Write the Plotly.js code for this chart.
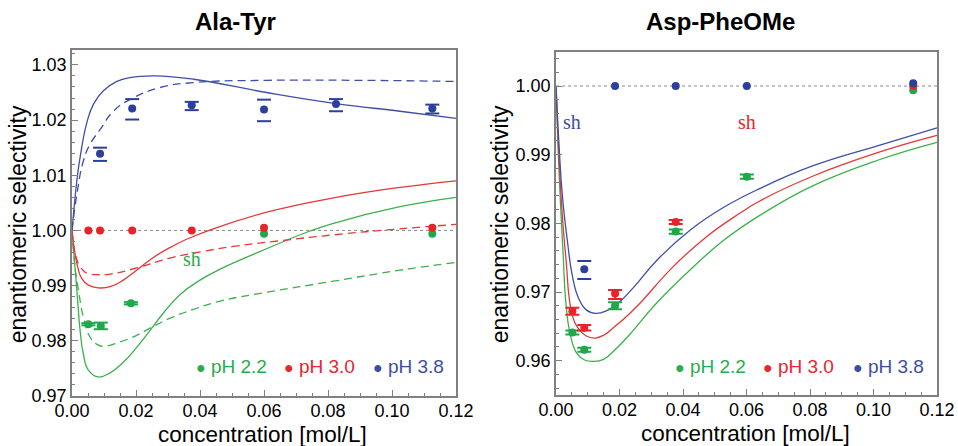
<!DOCTYPE html>
<html>
<head>
<meta charset="utf-8">
<script src="https://cdn.plot.ly/plotly-3.0.1.min.js"></script>
<style>html,body{margin:0;padding:0;background:#fff;}#chart{width:958px;height:446px;}</style>
</head>
<body>
<div id="chart"></div>
<script>
// ---------------- DATA ----------------
const panelTitles = ["Ala-Tyr", "Asp-PheOMe"];
const xAxisTitle = "concentration [mol/L]";
const yAxisTitle = "enantiomeric selectivity";
const legendLabels = ["pH 2.2", "pH 3.0", "pH 3.8"];
const shLabel = "sh";
const referenceLevel = 1.00;

// Ala-Tyr measured points
const ala_pH22_x = [0.0051, 0.0090, 0.0184, 0.0600, 0.1126];
const ala_pH22_y = [0.9830, 0.9827, 0.9868, 0.9994, 0.9994];
const ala_pH22_err = [0.0002, 0.0006, 0.0002, 0, 0];
const ala_pH30_x = [0.0051, 0.00875, 0.0188, 0.0374, 0.0600, 0.1126];
const ala_pH30_y = [1.0000, 1.0000, 1.0000, 1.0000, 1.0005, 1.0005];
const ala_pH38_x = [0.00875, 0.0188, 0.0374, 0.0600, 0.0825, 0.1126];
const ala_pH38_y = [1.0139, 1.0221, 1.0227, 1.0219, 1.0229, 1.0221];
const ala_pH38_errPlus = [0.0011, 0.0017, 0.0006, 0.0018, 0.0009, 0.0007];
const ala_pH38_errMinus = [0.0013, 0.0020, 0.0009, 0.0021, 0.0013, 0.0009];

// Ala-Tyr model curves (solid and dashed)
const ala_fit38_x = [0, 0.0015, 0.0025, 0.0046, 0.0067, 0.0098, 0.014, 0.0181, 0.026, 0.038, 0.0608, 0.0825, 0.1025, 0.12];
const ala_fit38_y = [1.000, 1.009, 1.0132, 1.0195, 1.0229, 1.0253, 1.0270, 1.0277, 1.0280, 1.0274, 1.0250, 1.0230, 1.0216, 1.0203];
const ala_fit38d_x = [0, 0.0015, 0.0035, 0.0056, 0.0088, 0.0129, 0.0187, 0.0275, 0.038, 0.0608, 0.09, 0.12];
const ala_fit38d_y = [1.000, 1.0065, 1.0125, 1.0156, 1.0183, 1.0216, 1.0239, 1.0259, 1.0268, 1.0272, 1.0272, 1.0270];
const ala_fit30_x = [0, 0.0015, 0.003, 0.0051, 0.0082, 0.0119, 0.016, 0.0202, 0.0254, 0.0306, 0.0358, 0.0441, 0.0608, 0.0817, 0.1025, 0.12];
const ala_fit30_y = [1.000, 0.9941, 0.9913, 0.9901, 0.9896, 0.9898, 0.9910, 0.9928, 0.9951, 0.9969, 0.9984, 1.0003, 1.0033, 1.0059, 1.0078, 1.0090];
const ala_fit30d_x = [0, 0.0009, 0.0025, 0.0046, 0.0077, 0.0119, 0.0202, 0.0306, 0.041, 0.0504, 0.066, 0.0817, 0.1025, 0.12];
const ala_fit30d_y = [1.000, 0.9959, 0.9935, 0.99225, 0.9920, 0.9921, 0.9932, 0.9950, 0.9962, 0.9971, 0.9982, 0.9992, 1.0003, 1.0011];
const ala_fit22_x = [0, 0.0015, 0.0025, 0.0035, 0.0051, 0.0082, 0.0119, 0.016, 0.0202, 0.0244, 0.0285, 0.0338, 0.040, 0.0463, 0.0588, 0.0744, 0.0817, 0.1025, 0.12];
const ala_fit22_y = [1.000, 0.9892, 0.9820, 0.9777, 0.9747, 0.97345, 0.9742, 0.9761, 0.9788, 0.9819, 0.9850, 0.9884, 0.9910, 0.9930, 0.9962, 0.9999, 1.0013, 1.0043, 1.0060];
const ala_fit22d_x = [0, 0.0009, 0.002, 0.0035, 0.0056, 0.0077, 0.0098, 0.015, 0.0202, 0.0244, 0.0306, 0.039, 0.0463, 0.0608, 0.0817, 0.1025, 0.12];
const ala_fit22d_y = [1.000, 0.9935, 0.9892, 0.9844, 0.9807, 0.9794, 0.9790, 0.9798, 0.9810, 0.9823, 0.9841, 0.9859, 0.9872, 0.9888, 0.9908, 0.9928, 0.9942];

// Asp-PheOMe measured points
const asp_pH22_x = [0.00515, 0.0089, 0.0186, 0.0377, 0.0601, 0.1125];
const asp_pH22_y = [0.9641, 0.9616, 0.9680, 0.9788, 0.9868, 0.9994];
const asp_pH22_err = [0.0003, 0.0003, 0.0005, 0.0003, 0.0003, 0];
const asp_pH30_x = [0.00515, 0.0089, 0.0186, 0.0377, 0.1125];
const asp_pH30_y = [0.9672, 0.9648, 0.9698, 0.9802, 1.0000];
const asp_pH30_errPlus = [0.0005, 0.0004, 0.0005, 0.0003, 0];
const asp_pH30_errMinus = [0.0005, 0.0004, 0.0008, 0.0003, 0];
const asp_pH38_x = [0.0089, 0.0186, 0.0377, 0.0601, 0.1125];
const asp_pH38_y = [0.9733, 1.0000, 1.0000, 1.0000, 1.0004];
const asp_pH38_errPlus = [0.0012, 0, 0, 0, 0];
const asp_pH38_errMinus = [0.0014, 0, 0, 0, 0];

// Asp-PheOMe model curves
const asp_fit38_x = [0, 0.001, 0.002, 0.0037, 0.005, 0.007, 0.0095, 0.0125, 0.016, 0.0191, 0.0243, 0.0317, 0.0422, 0.0527, 0.0643, 0.081, 0.102, 0.12];
const asp_fit38_y = [1.000, 0.991, 0.984, 0.977, 0.9727, 0.9692, 0.9674, 0.9669, 0.9673, 0.9682, 0.9706, 0.9746, 0.9790, 0.9823, 0.9851, 0.9884, 0.9914, 0.9939];
const asp_fit30_x = [0, 0.001, 0.002, 0.0031, 0.0049, 0.007, 0.0095, 0.0123, 0.015, 0.0186, 0.0228, 0.0265, 0.0369, 0.0475, 0.058, 0.0643, 0.081, 0.102, 0.12];
const asp_fit30_y = [1.000, 0.989, 0.981, 0.975, 0.9671, 0.9647, 0.9636, 0.9633, 0.9637, 0.9650, 0.9667, 0.9684, 0.9737, 0.9781, 0.9815, 0.9833, 0.9869, 0.9904, 0.9928];
const asp_fit22_x = [0, 0.001, 0.0023, 0.003, 0.0044, 0.0065, 0.009, 0.0118, 0.015, 0.0186, 0.0228, 0.0317, 0.0422, 0.0527, 0.0643, 0.081, 0.102, 0.12];
const asp_fit22_y = [1.000, 0.987, 0.975, 0.969, 0.9640, 0.9611, 0.9601, 0.9599, 0.9602, 0.9616, 0.9636, 0.9684, 0.9732, 0.9775, 0.9812, 0.9855, 0.9893, 0.9918];

// ---------------- STYLE ----------------
const C = {
  green: '#1fa84a', red: '#e8232a', blue: '#2c3f9c',
  greenLine: '#3cb04c', redLine: '#e53838', blueLine: '#3f4fa8',
  greenText: '#2aab4c', redText: '#e8262b', blueText: '#3b4ea2',
  frame: '#808080'
};
const FONT = 'Liberation Sans, Arial, Helvetica, sans-serif';

function pts(x, y, color, xa, ya) {
  return {x: x, y: y, xaxis: xa, yaxis: ya, type: 'scatter', mode: 'markers',
          marker: {color: color, size: 8}, hoverinfo: 'skip'};
}
function caps(x, y, ep, em, color, xa, ya, w) {
  const cx = [], cy = [];
  for (let i = 0; i < x.length; i++) {
    if (ep[i] > 0) { cx.push(x[i]); cy.push(y[i] + ep[i]); }
    if (em[i] > 0) { cx.push(x[i]); cy.push(y[i] - em[i]); }
  }
  return {x: cx, y: cy, xaxis: xa, yaxis: ya, type: 'scatter', mode: 'markers',
          marker: {symbol: 'line-ew', size: w, color: color, line: {color: color, width: 2}}, hoverinfo: 'skip'};
}
function stems(x, y, ep, em, color, xa, ya) {
  const sx = [], sy = [];
  for (let i = 0; i < x.length; i++) {
    if (ep[i] > 0 || em[i] > 0) { sx.push(x[i], x[i], null); sy.push(y[i] - em[i], y[i] + ep[i], null); }
  }
  return {x: sx, y: sy, xaxis: xa, yaxis: ya, type: 'scatter', mode: 'lines',
          line: {color: color, width: 2}, hoverinfo: 'skip'};
}
function curve(x, y, color, dash, xa, ya) {
  return {x: x, y: y, xaxis: xa, yaxis: ya, type: 'scatter', mode: 'lines',
          line: {color: color, width: 1.3, dash: dash, shape: 'spline', smoothing: 1.3}, hoverinfo: 'skip'};
}

const traces = [
  curve(ala_fit22_x, ala_fit22_y, C.greenLine, 'solid', 'x', 'y'),
  curve(ala_fit22d_x, ala_fit22d_y, C.greenLine, '8px,5px', 'x', 'y'),
  curve(ala_fit30_x, ala_fit30_y, C.redLine, 'solid', 'x', 'y'),
  curve(ala_fit30d_x, ala_fit30d_y, C.redLine, '8px,5px', 'x', 'y'),
  curve(ala_fit38_x, ala_fit38_y, C.blueLine, 'solid', 'x', 'y'),
  curve(ala_fit38d_x, ala_fit38d_y, C.blueLine, '8px,5px', 'x', 'y'),
  stems(ala_pH22_x, ala_pH22_y, ala_pH22_err, ala_pH22_err, C.green, 'x', 'y'),
  caps(ala_pH22_x, ala_pH22_y, ala_pH22_err, ala_pH22_err, C.green, 'x', 'y', 10),
  caps(ala_pH38_x, ala_pH38_y, ala_pH38_errPlus, ala_pH38_errMinus, C.blue, 'x', 'y', 10),
  pts(ala_pH22_x, ala_pH22_y, C.green, 'x', 'y'),
  pts(ala_pH30_x, ala_pH30_y, C.red, 'x', 'y'),
  pts(ala_pH38_x, ala_pH38_y, C.blue, 'x', 'y'),

  curve(asp_fit22_x, asp_fit22_y, C.greenLine, 'solid', 'x2', 'y2'),
  curve(asp_fit30_x, asp_fit30_y, C.redLine, 'solid', 'x2', 'y2'),
  curve(asp_fit38_x, asp_fit38_y, C.blueLine, 'solid', 'x2', 'y2'),
  stems(asp_pH22_x, asp_pH22_y, asp_pH22_err, asp_pH22_err, C.green, 'x2', 'y2'),
  caps(asp_pH22_x, asp_pH22_y, asp_pH22_err, asp_pH22_err, C.green, 'x2', 'y2', 10),
  stems(asp_pH30_x, asp_pH30_y, asp_pH30_errPlus, asp_pH30_errMinus, C.red, 'x2', 'y2'),
  caps(asp_pH30_x, asp_pH30_y, asp_pH30_errPlus, asp_pH30_errMinus, C.red, 'x2', 'y2', 10),
  caps(asp_pH38_x, asp_pH38_y, asp_pH38_errPlus, asp_pH38_errMinus, C.blue, 'x2', 'y2', 10),
  pts(asp_pH22_x, asp_pH22_y, C.green, 'x2', 'y2'),
  pts(asp_pH30_x, asp_pH30_y, C.red, 'x2', 'y2'),
  pts(asp_pH38_x, asp_pH38_y, C.blue, 'x2', 'y2')
];

function xax(domain, anchor) {
  return {domain: domain, anchor: anchor, range: [0, 0.12], tick0: 0, dtick: 0.02, tickformat: '.2f',
          ticks: 'inside', ticklen: 6, tickwidth: 1, tickcolor: C.frame, ticklabelstandoff: -3,
          minor: {dtick: 0.005, ticks: 'inside', ticklen: 3, tickcolor: C.frame, showgrid: false},
          showline: true, linecolor: C.frame, linewidth: 2, mirror: true,
          showgrid: false, zeroline: false, tickfont: {family: FONT, size: 18, color: '#000'}, fixedrange: true};
}
function yax(domain, anchor, range) {
  return {domain: domain, anchor: anchor, range: range, dtick: 0.01, tick0: 0.95, tickformat: '.2f',
          ticks: 'inside', ticklen: 6, tickwidth: 1, tickcolor: C.frame,
          minor: {dtick: 0.002, ticks: 'inside', ticklen: 3, tickcolor: C.frame, showgrid: false},
          showline: true, linecolor: C.frame, linewidth: 2, mirror: true,
          showgrid: false, zeroline: false, tickfont: {family: FONT, size: 18, color: '#000'}, fixedrange: true};
}

function legendAnn(label, color, x, y, xr, yr) {
  return {xref: xr, yref: yr, x: x, y: y, xanchor: 'left', yanchor: 'middle', showarrow: false,
          text: '<span style="font-size:16px">\u25CF</span> ' + label,
          font: {family: FONT, size: 19, color: color}};
}
function plain(text, x, y, size, extra) {
  return Object.assign({xref: 'paper', yref: 'paper', x: x, y: y, text: text, showarrow: false,
          xanchor: 'center', yanchor: 'middle', font: {family: FONT, size: size, color: '#000'}}, extra || {});
}

const annotations = [
  plain('<b>' + panelTitles[0] + '</b>', 0.2463, 0.951, 24),
  plain('<b>' + panelTitles[1] + '</b>', 0.7526, 0.951, 24),
  plain(xAxisTitle, 0.2745, 0.026, 22.5),
  plain(xAxisTitle, 0.7787, 0.029, 22.5),
  plain(yAxisTitle, 0.0188, 0.497, 23, {textangle: -90}),
  plain(yAxisTitle, 0.5219, 0.497, 23, {textangle: -90}),
  {xref: 'x', yref: 'y', x: 0.0375, y: 0.9949, text: shLabel, showarrow: false, xanchor: 'center', yanchor: 'middle',
   font: {family: 'Liberation Serif, Times New Roman, serif', size: 20, color: C.greenText}},
  {xref: 'x2', yref: 'y2', x: 0.0049, y: 0.9948, text: shLabel, showarrow: false, xanchor: 'center', yanchor: 'middle',
   font: {family: 'Liberation Serif, Times New Roman, serif', size: 20, color: C.blueText}},
  {xref: 'x2', yref: 'y2', x: 0.0601, y: 0.9948, text: shLabel, showarrow: false, xanchor: 'center', yanchor: 'middle',
   font: {family: 'Liberation Serif, Times New Roman, serif', size: 20, color: C.redText}},
  legendAnn(legendLabels[0], C.greenText, 0.0380, 0.9753, 'x', 'y'),
  legendAnn(legendLabels[1], C.redText, 0.0657, 0.9753, 'x', 'y'),
  legendAnn(legendLabels[2], C.blueText, 0.0935, 0.9753, 'x', 'y'),
  legendAnn(legendLabels[0], C.greenText, 0.0368, 0.9591, 'x2', 'y2'),
  legendAnn(legendLabels[1], C.redText, 0.0647, 0.9591, 'x2', 'y2'),
  legendAnn(legendLabels[2], C.blueText, 0.0928, 0.9591, 'x2', 'y2')
];

const shapes = [
  {type: 'line', xref: 'x', yref: 'y', x0: 0, x1: 0.12, y0: referenceLevel, y1: referenceLevel,
   line: {color: '#8a8a8a', width: 1, dash: 'dot'}, layer: 'below'},
  {type: 'line', xref: 'x2', yref: 'y2', x0: 0, x1: 0.12, y0: referenceLevel, y1: referenceLevel,
   line: {color: '#8a8a8a', width: 1, dash: 'dot'}, layer: 'below'}
];

const layout = {
  width: 958, height: 446,
  margin: {l: 0, r: 0, t: 0, b: 0},
  paper_bgcolor: '#fff', plot_bgcolor: '#fff',
  showlegend: false,
  xaxis: xax([0.0752, 0.4760], 'y'),
  yaxis: yax([0.1121, 0.8879], 'x', [0.97, 1.0327]),
  xaxis2: xax([0.5804, 0.9781], 'y2'),
  yaxis2: yax([0.1143, 0.8841], 'x2', [0.955, 1.005]),
  annotations: annotations,
  shapes: shapes
};

Plotly.newPlot('chart', traces, layout, {staticPlot: true, displayModeBar: false});
</script>
</body>
</html>
